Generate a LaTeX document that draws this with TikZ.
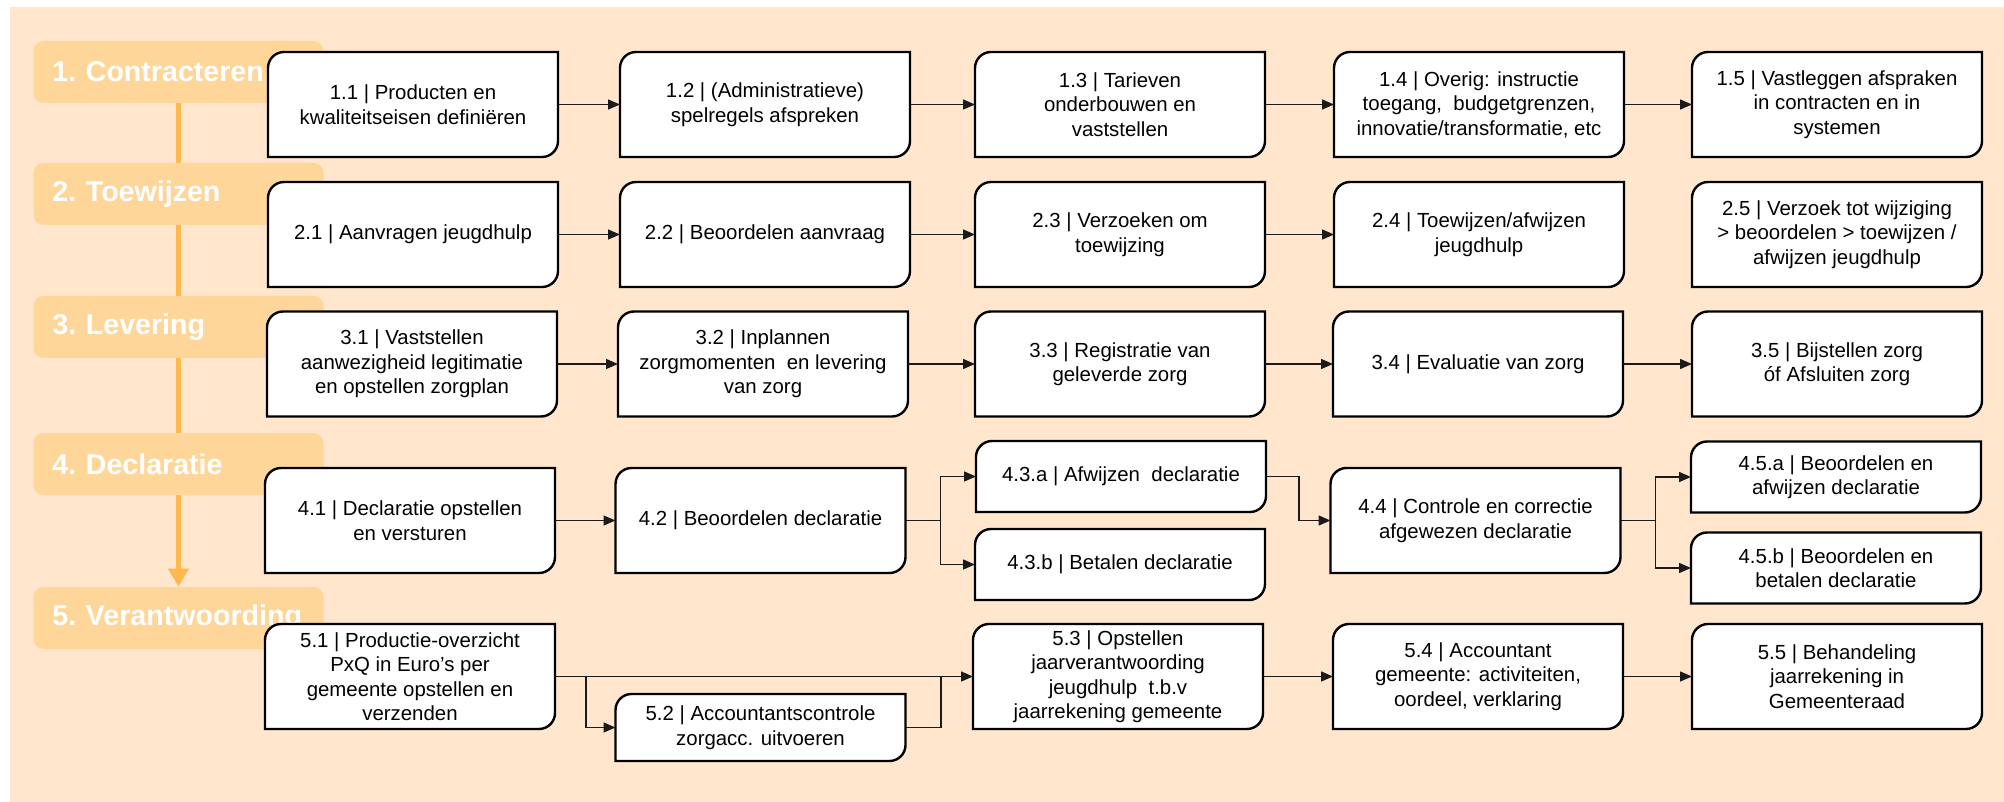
\documentclass[tikz,border=0pt]{standalone}
\usepackage{fontspec}
\setmainfont{Liberation Sans}
\usetikzlibrary{arrows.meta}
\pgfdeclarelayer{bg}
\pgfdeclarelayer{boxes}
\pgfsetlayers{bg,boxes,main}
\definecolor{sheet}{HTML}{FFE6CC}
\definecolor{phasefill}{HTML}{FFD699}
\definecolor{phasetrack}{HTML}{FFB84D}
\definecolor{wirecol}{HTML}{1A1A1A}
\newcommand\procshape[1]{\filldraw[fill=white,draw=black,line width=1.2pt] (#1.west) [rounded corners=8pt] -- (#1.north west) -- (#1.north) [sharp corners] -- (#1.north east) -- (#1.east) [rounded corners=8pt] -- (#1.south east) -- (#1.south) [sharp corners] -- (#1.south west) -- cycle;}

\begin{document}
\begin{tikzpicture}[x=0.5pt,y=-0.5pt,
  proc/.style={minimum width=145pt,minimum height=52.5pt,inner sep=1pt,outer sep=0pt,align=center,font=\fontsize{10.2}{12.25}\selectfont},
  flat/.style={proc,minimum height=35.5pt},
  phase/.style={fill=phasefill,rounded corners=5pt,text width=126pt,inner xsep=9.5pt,inner ysep=0pt,minimum height=31pt,align=left,text=white,font=\fontsize{14.3}{16}\selectfont\bfseries\frenchspacing},
  wire/.style={draw=wirecol,line width=0.7pt},
  flow/.style={wire,-{Triangle[length=6pt,width=5pt]}},
  track/.style={draw=phasetrack,line width=2.3pt,-{Triangle[length=9pt,width=10pt]}}]
\useasboundingbox (0,0) rectangle (2004,802);

\node[proc] (p11) at (413,104.5) {1.1 | Producten en\\kwaliteitseisen definiëren};
\node[proc] (p12) at (765,104.5) {1.2 | (Administratieve)\\spelregels afspreken};
\node[proc] (p13) at (1120,104.5) {1.3 | Tarieven\\onderbouwen en\\vaststellen};
\node[proc] (p14) at (1479,104.5) {1.4 | Overig: instructie\\toegang,~ budgetgrenzen,\\innovatie/transformatie, etc};
\node[proc] (p15) at (1837,104.5) {1.5 | Vastleggen afspraken\\in contracten en in\\systemen};

\node[proc] (p21) at (413,234.5) {2.1 | Aanvragen jeugdhulp};
\node[proc] (p22) at (765,234.5) {2.2 | Beoordelen aanvraag};
\node[proc] (p23) at (1120,234.5) {2.3 | Verzoeken om\\toewijzing};
\node[proc] (p24) at (1479,234.5) {2.4 | Toewijzen/afwijzen\\jeugdhulp};
\node[proc] (p25) at (1837,234.5) {2.5 | Verzoek tot wijziging\\> beoordelen > toewijzen /\\afwijzen jeugdhulp};

\node[proc] (p31) at (412,364) {3.1 | Vaststellen\\aanwezigheid legitimatie\\en opstellen zorgplan};
\node[proc] (p32) at (763,364) {3.2 | Inplannen\\zorgmomenten~ en levering\\van zorg};
\node[proc] (p33) at (1120,364) {3.3 | Registratie van\\geleverde zorg};
\node[proc] (p34) at (1478,364) {3.4 | Evaluatie van zorg};
\node[proc] (p35) at (1837,364) {3.5 | Bijstellen zorg\\óf Afsluiten zorg};

\node[proc] (p41) at (410,520.5) {4.1 | Declaratie opstellen\\en versturen};
\node[proc] (p42) at (760.5,520.5) {4.2 | Beoordelen declaratie};
\node[flat] (p43a) at (1121,476.5) {4.3.a | Afwijzen~ declaratie};
\node[flat] (p43b) at (1120,564.5) {4.3.b | Betalen declaratie};
\node[proc] (p44) at (1475.5,520.5) {4.4 | Controle en correctie\\afgewezen declaratie};
\node[flat] (p45a) at (1836,477) {4.5.a | Beoordelen en\\afwijzen declaratie};
\node[flat] (p45b) at (1836,568) {4.5.b | Beoordelen en\\betalen declaratie};

\node[proc] (p51) at (410,676.5) {5.1 | Productie-overzicht\\PxQ in Euro’s per\\gemeente opstellen en\\verzenden};
\node[proc,minimum height=33.5pt] (p52) at (760.5,727.5) {5.2 | Accountantscontrole\\zorgacc. uitvoeren};
\node[proc] (p53) at (1118,676.5) {5.3 | Opstellen\\jaarverantwoording\\jeugdhulp~ t.b.v\\jaarrekening gemeente};
\node[proc] (p54) at (1478,676.5) {5.4 | Accountant\\gemeente: activiteiten,\\oordeel, verklaring};
\node[proc] (p55) at (1837,676.5) {5.5 | Behandeling\\jaarrekening in\\Gemeenteraad};

\begin{pgfonlayer}{bg}
\fill[sheet] (10,7) rectangle (2004,802);
\node[phase] (ph1) at (178.5,72) {1. Contracteren};
\node[phase] (ph5) at (178.5,618) {\mbox{5. Verantwoording}};
\draw[track] (ph1.south) -- (ph5.north);
\node[phase] (ph2) at (178.5,194) {2. Toewijzen};
\node[phase] (ph3) at (178.5,327) {3. Levering};
\node[phase] (ph4) at (178.5,464) {4. Declaratie};
\end{pgfonlayer}

\begin{pgfonlayer}{boxes}
\foreach \n in {p11,p12,p13,p14,p15,p21,p22,p23,p24,p25,p31,p32,p33,p34,p35,p41,p42,p43a,p43b,p44,p45a,p45b,p51,p52,p53,p54,p55}
  {\procshape{\n}}
\end{pgfonlayer}

\foreach \a/\b in {p11/p12,p12/p13,p13/p14,p14/p15,p21/p22,p22/p23,p23/p24,p31/p32,p32/p33,p33/p34,p34/p35,p41/p42,p51/p53,p53/p54,p54/p55}
  \draw[flow] (\a.east) -- (\b.west);
\draw[flow] (p42.east) -- ++(17.5pt,0) |- (p43a.west);
\draw[flow] (p42.east) -- ++(17.5pt,0) |- (p43b.west);
\draw[flow] (p43a.east) -- ++(16.5pt,0) |- (p44.west);
\draw[flow] (p44.east) -- ++(17.5pt,0) |- (p45a.west);
\draw[flow] (p44.east) -- ++(17.5pt,0) |- (p45b.west);
\draw[flow] ([xshift=15.5pt]p51.east) |- (p52.west);
\draw[wire] (p52.east) -| ([xshift=-16pt]p53.west);
\end{tikzpicture}
\end{document}
